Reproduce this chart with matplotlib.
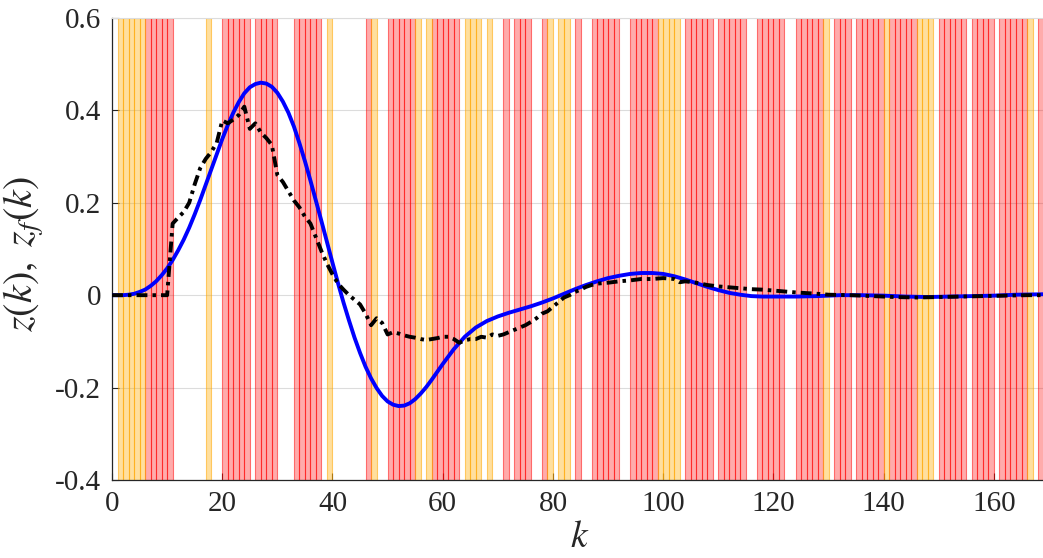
import numpy as np
import matplotlib
matplotlib.use("Agg")
from matplotlib import pyplot as plt

plt.rcParams["font.family"] = ["Liberation Serif", "DejaVu Serif"]
plt.rcParams["mathtext.fontset"] = "stix"

# instants k where each event type is active (bar spans [k, k+1])
k_yellow = [1, 2, 3, 4, 5, 17, 39, 47, 55, 57, 64, 65, 66, 68, 79, 81, 82,
            99, 100, 101, 102, 129, 140, 146, 147, 148, 166]
k_red = [6, 7, 8, 9, 10, 20, 21, 22, 23, 24, 26, 27, 28, 29, 33, 34, 35, 36, 37,
         46, 50, 51, 52, 53, 54, 58, 59, 60, 61, 62, 71, 73, 74, 75, 78, 84,
         87, 88, 89, 90, 91, 94, 95, 96, 97, 98, 104, 105, 106, 107, 108,
         110, 111, 112, 113, 114, 117, 118, 119, 120, 121, 124, 125, 126, 127, 128,
         131, 132, 133, 135, 136, 137, 138, 139, 141, 142, 143, 144, 145,
         150, 151, 152, 153, 154, 156, 157, 158, 159, 161, 162, 163, 164, 165, 168]

# z(k), blue solid
k_z = [0, 1, 2, 3, 4, 5, 6, 7, 8, 9, 10, 11, 12, 13, 14, 15, 16, 17, 18, 19, 20,
       21, 22, 23, 24, 25, 26, 27, 28, 29, 30, 31, 32, 33, 34, 35, 36, 37, 38, 39,
       40, 41, 42, 43, 44, 45, 46, 47, 48, 49, 50, 51, 52, 53, 54, 55, 56, 57, 58,
       59, 60, 62, 64, 66, 68, 70, 72, 74, 76, 78, 80, 82, 84, 86, 88, 90, 92, 94,
       96, 98, 100, 102, 104, 106, 108, 110, 112, 114, 116, 118, 120, 124, 128,
       132, 136, 140, 144, 148, 152, 156, 160, 164, 169]
z = [0, 0, 0, 0.001, 0.003, 0.007, 0.012, 0.02, 0.03, 0.043, 0.058, 0.076, 0.097,
     0.12, 0.146, 0.175, 0.206, 0.239, 0.272, 0.305, 0.338, 0.368, 0.395, 0.418,
     0.437, 0.45, 0.457, 0.46, 0.458, 0.451, 0.438, 0.419, 0.395, 0.365, 0.329,
     0.29, 0.248, 0.204, 0.16, 0.115, 0.07, 0.026, -0.016, -0.055, -0.092, -0.125,
     -0.155, -0.18, -0.201, -0.218, -0.23, -0.237, -0.24, -0.239, -0.234, -0.225,
     -0.213, -0.199, -0.183, -0.166, -0.149, -0.117, -0.09, -0.07, -0.056, -0.046,
     -0.038, -0.031, -0.024, -0.016, -0.007, 0.003, 0.013, 0.022, 0.03, 0.037,
     0.042, 0.046, 0.048, 0.048, 0.046, 0.041, 0.034, 0.026, 0.018, 0.011, 0.005,
     0.001, -0.002, -0.003, -0.003, -0.003, -0.002, 0, 0, -0.001, -0.003, -0.004,
     -0.003, -0.002, -0.001, 0.001, 0.002]

# z_f(k), black dash-dot
k_zf = [0, 10, 11, 12, 13, 14, 15, 16, 17, 18, 19, 20, 21, 22, 23, 24, 25, 26, 27,
        28, 29, 30, 31, 32, 33, 34, 35, 36, 37, 38, 39, 40, 41, 42, 43, 44, 45, 46,
        47, 48, 49, 50, 51, 52, 53, 54, 55, 56, 57, 58, 59, 60, 61, 62, 63, 64, 65,
        66, 67, 68, 69, 70, 71, 72, 73, 74, 75, 76, 77, 78, 79, 80, 81, 82, 83, 84,
        85, 86, 87, 88, 90, 92, 94, 96, 98, 100, 102, 103, 104, 106, 108, 110, 112,
        114, 116, 118, 120, 124, 128, 130, 134, 138, 142, 146, 150, 154, 158, 162,
        166, 169]
zf = [0, 0, 0.155, 0.168, 0.18, 0.2, 0.24, 0.275, 0.295, 0.31, 0.33, 0.378, 0.372,
      0.38, 0.39, 0.408, 0.36, 0.372, 0.352, 0.34, 0.325, 0.26, 0.245, 0.225, 0.205,
      0.19, 0.17, 0.155, 0.125, 0.095, 0.068, 0.045, 0.025, 0.012, 0.0, -0.01,
      -0.02, -0.04, -0.065, -0.05, -0.06, -0.085, -0.08, -0.083, -0.087, -0.09,
      -0.092, -0.095, -0.097, -0.095, -0.093, -0.09, -0.09, -0.095, -0.103, -0.098,
      -0.095, -0.095, -0.09, -0.092, -0.085, -0.088, -0.085, -0.08, -0.075, -0.07,
      -0.065, -0.058, -0.05, -0.04, -0.035, -0.025, -0.015, -0.005, 0.0, 0.007,
      0.012, 0.018, 0.022, 0.025, 0.027, 0.03, 0.032, 0.035, 0.035, 0.037, 0.035,
      0.028, 0.03, 0.027, 0.022, 0.019, 0.017, 0.015, 0.013, 0.012, 0.01, 0.006,
      0.003, 0.001, 0.0, -0.002, -0.004, -0.005, -0.004, -0.003, -0.002, -0.001,
      0.0, 0.0]

y_ticks = [-0.4, -0.2, 0, 0.2, 0.4, 0.6]
y_tick_labels = ["-0.4", "-0.2", "0", "0.2", "0.4", "0.6"]
x_ticks = [0, 20, 40, 60, 80, 100, 120, 140, 160]

fig = plt.figure(figsize=(10.43, 5.58), dpi=100)
ax = fig.add_axes([0.1074, 0.1398, 0.8926, 0.828])

ylo, yhi = -0.4, 0.6
ax.bar(k_red, yhi - ylo, width=1, bottom=ylo, align="edge",
       facecolor=(1, 0, 0, 0.33), edgecolor=(1, 0, 0, 0.5), linewidth=0.8, zorder=2)
ax.bar(k_yellow, yhi - ylo, width=1, bottom=ylo, align="edge",
       facecolor=(1, 0.68, 0, 0.38), edgecolor=(1, 0.65, 0, 0.55), linewidth=0.8, zorder=2)

ax.plot(k_z, z, color="blue", linewidth=2.8, zorder=3)
ax.plot(k_zf, zf, color="black", linewidth=2.8, zorder=4,
        linestyle=(0, (2.8, 1.3, 0.9, 1.3)))

ax.set_xlim(0, 168.9)
ax.set_ylim(ylo, yhi)
ax.set_xticks(x_ticks)
ax.set_yticks(y_ticks)
ax.set_yticklabels(y_tick_labels)
ax.tick_params(direction="in", length=5, width=0.8, labelsize=21, colors="#262626",
               pad=8)
ax.grid(axis="y", color="#dcdcdc", linewidth=0.8, zorder=0)
ax.set_axisbelow(True)

ax.spines["top"].set_color("#dcdcdc")
ax.spines["right"].set_visible(False)
for s in ["left", "bottom"]:
    ax.spines[s].set_color("#262626")
    ax.spines[s].set_linewidth(0.9)

fig.text(580 / 1043, 1 - 538 / 558, r"$k$", fontsize=27, color="#262626",
         ha="center", va="center")
fig.text(24 / 1043, 1 - 254 / 558, r"$z(k),\ z_f(k)$", fontsize=29, color="#262626",
         ha="center", va="center", rotation=90)

fig.savefig("out.png", dpi=100)
